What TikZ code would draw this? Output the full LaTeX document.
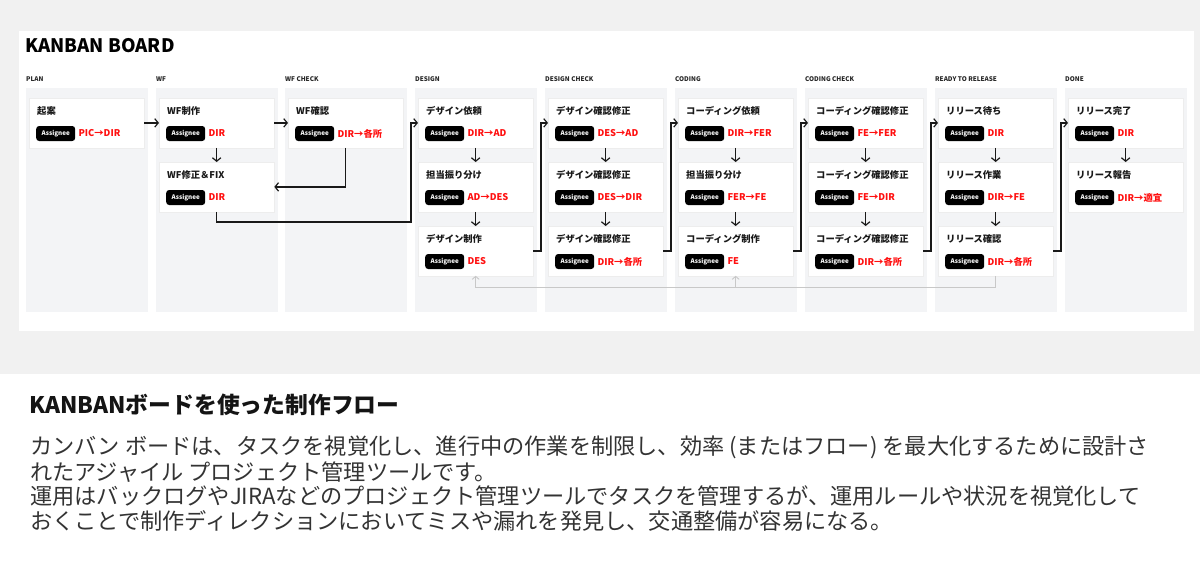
\documentclass[tikz,border=0pt]{standalone}
\usepackage{fontspec}
\setmainfont{Noto Sans CJK JP}
\usetikzlibrary{arrows.meta,calc,shadows}
\definecolor{outerbg}{HTML}{F1F1F1}
\definecolor{colbg}{HTML}{F3F4F6}
\definecolor{redtxt}{HTML}{FF1010}
\definecolor{bodytxt}{HTML}{333333}
\definecolor{fbgray}{HTML}{C8C8C8}
\tikzset{
  colbox/.style={fill=colbg, draw=none, minimum width=122pt, minimum height=224pt, anchor=north west, inner sep=0pt},
  colhead/.style={anchor=west, inner sep=0pt, font=\bfseries\fontsize{6.4}{7}\selectfont, text=black!85},
  card/.style={fill=white, draw=black!7, line width=0.3pt, minimum width=115pt, minimum height=49.5pt, anchor=north west, inner sep=0pt,
    drop shadow={shadow xshift=0pt, shadow yshift=-1.2pt, fill=black, opacity=0.16}},
  ctitle/.style={anchor=west, inner sep=0pt, font=\bfseries\fontsize{9.3}{11}\selectfont, text=black!90},
  badge/.style={anchor=west, fill=black, rounded corners=3pt, minimum width=39pt, minimum height=15pt, inner sep=0pt, text=white, font=\bfseries\fontsize{6.3}{7}\selectfont},
  who/.style={anchor=west, inner sep=0pt, text=redtxt, font=\bfseries\fontsize{9.3}{11}\selectfont},
  arr/.style={draw=black!90, line width=1.2pt, -{Straight Barb[length=3.5pt,width=8.5pt]}},
  fbarr/.style={draw=fbgray, line width=0.9pt, -{Straight Barb[length=3pt,width=7pt]}},
  bodyline/.style={anchor=west, inner sep=0pt, text=bodytxt, font=\fontsize{22.2}{24}\selectfont},
}
\newcommand\kcard[5]{%
  \node[card] (#1) at (#2+3,#3) {};
  \node[ctitle] (#1t) at ($(#1.north west)+(8pt,-13pt)$) {#4};
  \node[badge] (#1b) at ($(#1.north west)+(7pt,-35.5pt)$) {Assignee};
  \node[who] (#1w) at ($(#1b.east)+(3pt,0)$) {#5};
}
\begin{document}
\begin{tikzpicture}[x=1pt,y=-1pt]
\useasboundingbox (0,0) rectangle (1200,562);
\fill[outerbg] (0,0) rectangle (1200,374);
\fill[white] (0,374) rectangle (1200,562);
\fill[white] (19,31) rectangle (1194,331);

\node[anchor=west, inner sep=0pt, font=\bfseries\fontsize{18.6}{22}\selectfont] (title) at (25,45.5) {KANBAN BOARD};

\foreach \x/\lab [count=\i] in {26/PLAN,156/WF,285/WF CHECK,415/DESIGN,545/DESIGN CHECK,675/CODING,805/CODING CHECK,935/READY TO RELEASE,1065/DONE} {
  \node[colbox] (col\i) at (\x,88) {};
  \node[colhead] (hd\i) at (\x,79) {\lab};
}

% PLAN
\kcard{p1}{26}{98}{起案}{PIC→DIR}
% WF
\kcard{wf1}{156}{98}{WF制作}{DIR}
\kcard{wf2}{156}{162}{WF修正＆FIX}{DIR}
% WF CHECK
\kcard{wc1}{285}{98}{WF確認}{DIR→各所}
% DESIGN
\kcard{d1}{415}{98}{デザイン依頼}{DIR→AD}
\kcard{d2}{415}{162}{担当振り分け}{AD→DES}
\kcard{d3}{415}{226}{デザイン制作}{DES}
% DESIGN CHECK
\kcard{dc1}{545}{98}{デザイン確認修正}{DES→AD}
\kcard{dc2}{545}{162}{デザイン確認修正}{DES→DIR}
\kcard{dc3}{545}{226}{デザイン確認修正}{DIR→各所}
% CODING
\kcard{co1}{675}{98}{コーディング依頼}{DIR→FER}
\kcard{co2}{675}{162}{担当振り分け}{FER→FE}
\kcard{co3}{675}{226}{コーディング制作}{FE}
% CODING CHECK
\kcard{cc1}{805}{98}{コーディング確認修正}{FE→FER}
\kcard{cc2}{805}{162}{コーディング確認修正}{FE→DIR}
\kcard{cc3}{805}{226}{コーディング確認修正}{DIR→各所}
% READY TO RELEASE
\kcard{r1}{935}{98}{リリース待ち}{DIR}
\kcard{r2}{935}{162}{リリース作業}{DIR→FE}
\kcard{r3}{935}{226}{リリース確認}{DIR→各所}
% DONE
\kcard{dn1}{1065}{98}{リリース完了}{DIR}
\kcard{dn2}{1065}{162}{リリース報告}{DIR→適宜}

% connectors
\draw[arr] (p1.east) -- (wf1.west);
\draw[arr] (wf1.east) -- (wc1.west);
\draw[arr] (wf1.south) -- (wf2.north);
\draw[arr] (wc1.south) |- (wf2.east);
\coordinate (j1) at (411,222);
\draw[arr] (wf2.south) |- (j1) |- (d1.west);

\foreach \a/\b in {d1/d2,d2/d3,dc1/dc2,dc2/dc3,co1/co2,co2/co3,cc1/cc2,cc2/cc3,r1/r2,r2/r3,dn1/dn2} {
  \draw[arr] (\a.south) -- (\b.north);
}

\coordinate (j2) at (dc1.west -| 541,0);
\coordinate (j3) at (co1.west -| 671,0);
\coordinate (j4) at (cc1.west -| 801,0);
\coordinate (j5) at (r1.west -| 931,0);
\coordinate (j6) at (dn1.west -| 1061,0);
\draw[arr] (d3.east) -| (j2) -- (dc1.west);
\draw[arr] (dc3.east) -| (j3) -- (co1.west);
\draw[arr] (co3.east) -| (j4) -- (cc1.west);
\draw[arr] (cc3.east) -| (j5) -- (r1.west);
\draw[arr] (r3.east) -| (j6) -- (dn1.west);

% feedback loop
\coordinate (g1) at (r3.south |- 0,287);
\coordinate (g2) at (d3.south |- 0,287);
\coordinate (g3) at (co3.south |- 0,287);
\draw[fbarr] (r3.south) -- (g1) -- (g2) -- (d3.south);
\draw[fbarr] (g3) -- (co3.south);

% text below
\node[anchor=west, inner sep=0pt, text=black!92, font=\bfseries\fontsize{22.8}{26}\selectfont] (head) at (29,405) {KANBANボードを使った制作フロー};
\node[bodyline] (l1) at (30,447) {カンバン ボードは、タスクを視覚化し、進行中の作業を制限し、効率 (またはフロー) を最大化するために設計さ};
\node[bodyline] (l2) at (30,472) {れたアジャイル プロジェクト管理ツールです。};
\node[bodyline] (l3) at (30,496.5) {運用はバックログやJIRAなどのプロジェクト管理ツールでタスクを管理するが、運用ルールや状況を視覚化して};
\node[bodyline] (l4) at (30,521) {おくことで制作ディレクションにおいてミスや漏れを発見し、交通整備が容易になる。};
\end{tikzpicture}
\end{document}
